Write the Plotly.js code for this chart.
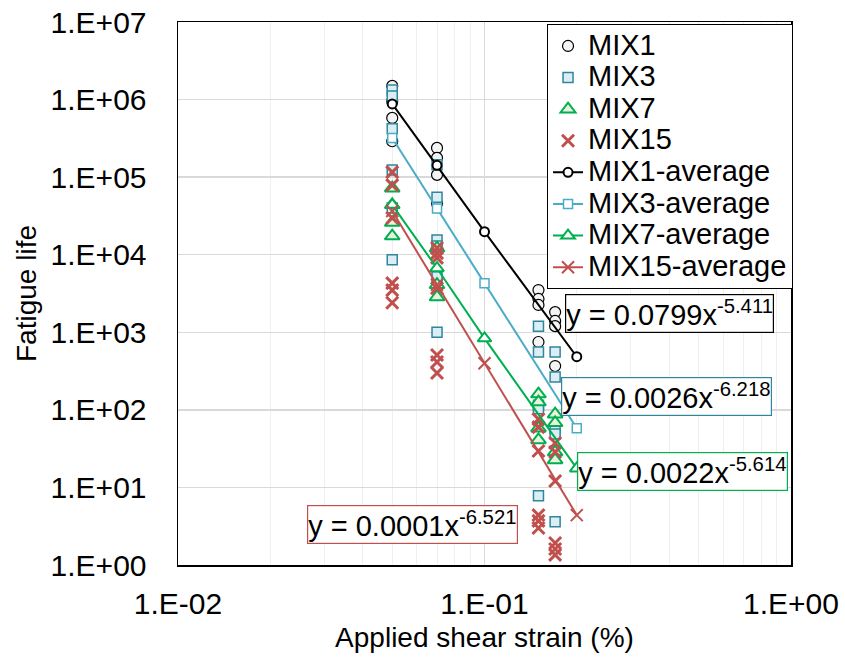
<!DOCTYPE html>
<html>
<head>
<meta charset="utf-8">
<script src="https://cdn.plot.ly/plotly-3.0.1.min.js"></script>
<style>html,body{margin:0;padding:0;background:#fff;}#chart{width:845px;height:661px;}</style>
</head>
<body>
<div id="chart"></div>
<script>
// ---- data ----
var mix1X = [0.05,0.05,0.05,0.05, 0.07,0.07,0.07,0.07, 0.15,0.15,0.15,0.15, 0.17,0.17,0.17,0.17];
var mix1Y = [1.5e6,9.5e5,5.8e5,2.9e5, 2.38e5,1.77e5,1.07e5,4.6e4, 3.5e3,2.69e3,2.25e3,750, 1.82e3,1.4e3,1.2e3,367];

var mix3X = [0.05,0.05,0.05,0.05,0.05,0.05, 0.07,0.07,0.07,0.07,0.07,0.07, 0.15,0.15,0.15,0.15,0.15, 0.17,0.17,0.17,0.17,0.17];
var mix3Y = [1.33e6,1.11e6,4.2e5,1.24e5,4.0e4,8.6e3, 1.44e5,5.5e4,1.55e4,1.3e4,5.2e3,1.0e3, 1.2e3,557,115,103,7.8, 557,266,58,49,3.6];

var mix7X = [0.05,0.05,0.05,0.05, 0.07,0.07,0.07, 0.15,0.15,0.15,0.15, 0.17,0.17,0.17,0.17];
var mix7Y = [7.2e4,4.4e4,2.6e4,1.74e4, 1.22e4,4.1e3,2.85e3, 160,126,58,41, 88,68,28.6,22.6];

var mix15X = [0.05,0.05,0.05,0.05,0.05,0.05, 0.07,0.07,0.07,0.07,0.07,0.07,0.07, 0.15,0.15,0.15,0.15,0.15,0.15, 0.17,0.17,0.17,0.17,0.17,0.17];
var mix15Y = [1.16e5,7.9e4,2.97e4,4.3e3,3.5e3,2.4e3, 1.22e4,1.05e4,9.1e3,3.7e3,510,414,299, 76,60,29.5,4.4,3.7,3.0, 37.4,28.6,12.1,1.92,1.61,1.35];

var avgX = [0.05, 0.07, 0.1, 0.2];
var mix1Avg = [8.8e5, 1.42e5, 1.98e4, 484];
var mix3Avg = [3.2e5, 3.95e4, 4.28e3, 57.8];
var mix7Avg = [4.4e4, 6.7e3, 836, 17.6];
var mix15Avg = [3.66e4, 4.1e3, 398, 4.4];

var seriesNames = ['MIX1','MIX3','MIX7','MIX15','MIX1-average','MIX3-average','MIX7-average','MIX15-average'];
var eqTexts = ['y = 0.0799x<sup>-5.411</sup>','y = 0.0026x<sup>-6.218</sup>','y = 0.0022x<sup>-5.614</sup>','y = 0.0001x<sup>-6.521</sup>'];

var yTickVals = [1,10,100,1e3,1e4,1e5,1e6,1e7];
var yTickText = ['1.E+00','1.E+01','1.E+02','1.E+03','1.E+04','1.E+05','1.E+06','1.E+07'];
var xTickVals = [0.01,0.1,1];
var xTickText = ['1.E-02','1.E-01','1.E+00'];

// ---- styling ----
var FONT = 'Liberation Sans, Arial, sans-serif';
var cBlack = '#000000', cBlue = '#4bacc6', cBlueDark = '#31859c', cGreen = '#00b050', cRed = '#c0504d';

var xMinor = [];
[0.01,0.1].forEach(function(d){ for (var k=2;k<=9;k++) xMinor.push(d*k); });

function legName(s){ return '<span style="font-size:29px">' + s + '</span>'; }

var traces = [
  {x: mix1X, y: mix1Y, name: legName(seriesNames[0]), mode:'markers', type:'scatter',
   marker:{symbol:'circle', size:11, color:'#f4f4f4', line:{color:cBlack, width:1.2}}},
  {x: mix3X, y: mix3Y, name: legName(seriesNames[1]), mode:'markers', type:'scatter',
   marker:{symbol:'square', size:10, color:'#dbeef4', line:{color:cBlueDark, width:1.5}}},
  {x: mix7X, y: mix7Y, name: legName(seriesNames[2]), mode:'markers', type:'scatter',
   marker:{symbol:'triangle-up', size:13, color:'#ebf1de', line:{color:cGreen, width:2}}},
  {x: mix15X, y: mix15Y, name: legName(seriesNames[3]), mode:'markers', type:'scatter',
   marker:{symbol:'x-thin', size:12, color:cRed, line:{color:cRed, width:3}}},
  {x: avgX, y: mix1Avg, name: legName(seriesNames[4]), mode:'lines+markers', type:'scatter',
   line:{color:cBlack, width:2}, marker:{symbol:'circle', size:9, color:'#ffffff', line:{color:cBlack, width:2}}},
  {x: avgX, y: mix3Avg, name: legName(seriesNames[5]), mode:'lines+markers', type:'scatter',
   line:{color:cBlue, width:2}, marker:{symbol:'square', size:9, color:'#ffffff', line:{color:cBlue, width:1.5}}},
  {x: avgX, y: mix7Avg, name: legName(seriesNames[6]), mode:'lines+markers', type:'scatter',
   line:{color:cGreen, width:2}, marker:{symbol:'triangle-up', size:12, color:'#ffffff', line:{color:cGreen, width:2}}},
  {x: avgX, y: mix15Avg, name: legName(seriesNames[7]), mode:'lines+markers', type:'scatter',
   line:{color:cRed, width:2}, marker:{symbol:'x-thin', size:12, color:cRed, line:{color:cRed, width:2}}}
];

var annBase = {xref:'paper', yref:'paper', showarrow:false, font:{family:FONT, size:29, color:'#000'},
  bgcolor:'#ffffff', borderwidth:1.2, borderpad:0, xanchor:'center', yanchor:'middle'};
var anns = [
  Object.assign({}, annBase, {text: eqTexts[0], x:0.802, y:0.463, bordercolor:cBlack}),
  Object.assign({}, annBase, {text: eqTexts[1], x:0.797, y:0.311, bordercolor:cBlueDark}),
  Object.assign({}, annBase, {text: eqTexts[2], x:0.823, y:0.172, bordercolor:cGreen}),
  Object.assign({}, annBase, {text: eqTexts[3], x:0.383, y:0.0746, bordercolor:cRed})
];

var layout = {
  width:845, height:661,
  margin:{l:178, r:54, t:22, b:96},
  paper_bgcolor:'#ffffff', plot_bgcolor:'#ffffff',
  font:{family:FONT, size:26, color:'#000'},
  showlegend:true,
  legend:{x:0.602, y:0.996, xanchor:'left', yanchor:'top', bgcolor:'#ffffff',
    bordercolor:'#000', borderwidth:1, font:{family:FONT, size:22, color:'#000'},
    traceorder:'normal', itemwidth:30},
  xaxis:{type:'log', range:[-2,0], tickvals:xTickVals, ticktext:xTickText, ticks:'',
    showgrid:true, gridcolor:'#d9d9d9', gridwidth:1.5,
    minor:{tickvals:xMinor, showgrid:true, gridcolor:'#efefef', gridwidth:1, ticks:''},
    showline:true, linecolor:'#000', linewidth:1.5, mirror:true, zeroline:false,
    tickfont:{family:FONT, size:30, color:'#000'}, ticklabelstandoff:11,
    title:{text:'Applied shear strain (%)', font:{family:FONT, size:28, color:'#000'}, standoff:9}},
  yaxis:{type:'log', range:[0,7], tickvals:yTickVals, ticktext:yTickText, ticks:'',
    showgrid:true, gridcolor:'#d9d9d9', gridwidth:1.5,
    showline:true, linecolor:'#000', linewidth:1.5, mirror:true, zeroline:false,
    tickfont:{family:FONT, size:30, color:'#000'}, ticklabelstandoff:24,
    title:{text:'Fatigue life', font:{family:FONT, size:28, color:'#000'}, standoff:6}},
  annotations: anns
};

Plotly.newPlot('chart', traces, layout, {displayModeBar:false, staticPlot:true});
</script>
</body>
</html>
